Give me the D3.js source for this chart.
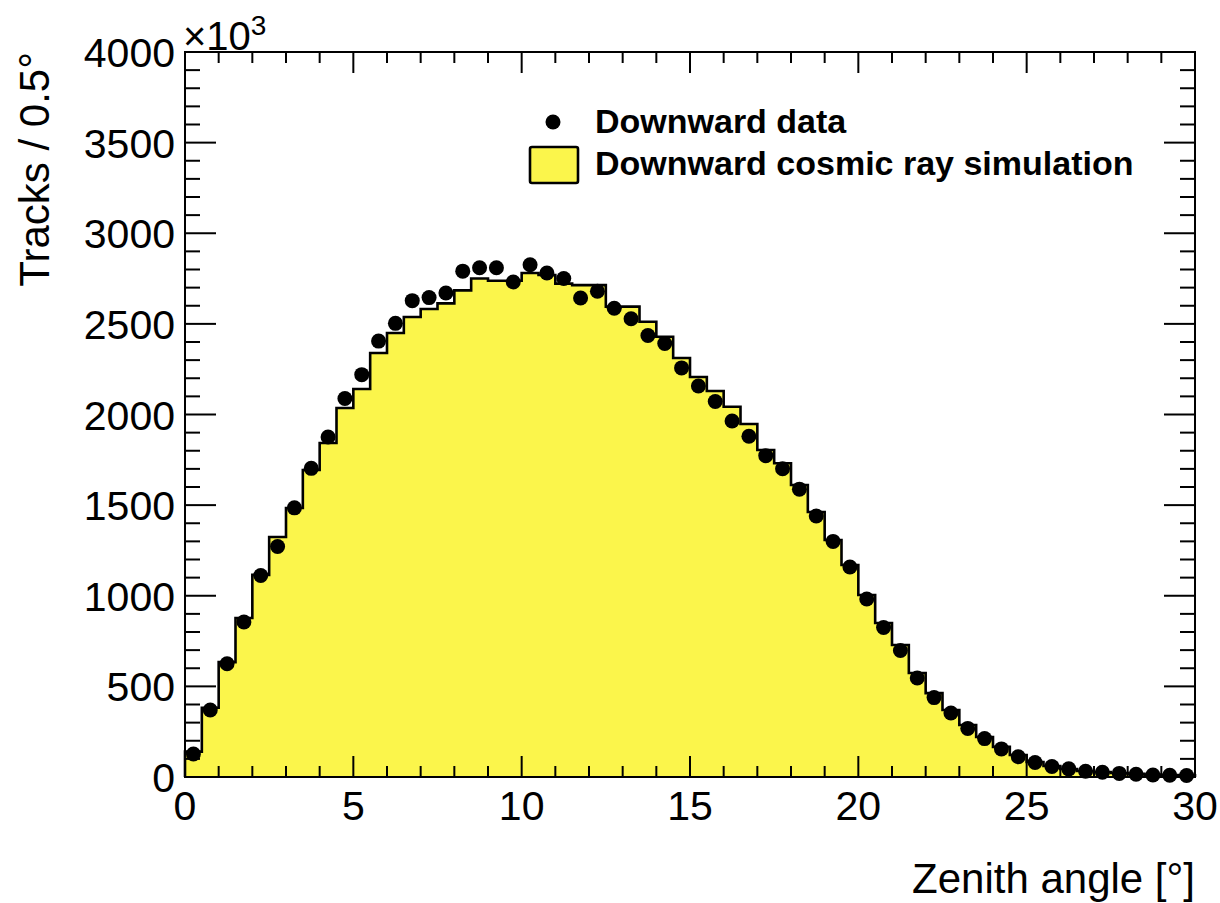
<!DOCTYPE html>
<html>
<head>
<meta charset="utf-8">
<script src="https://cdn.jsdelivr.net/npm/d3@7"></script>
<style>
html,body{margin:0;padding:0;background:#fff;}
svg{display:block;}
text{font-family:"Liberation Sans",Arial,Helvetica,sans-serif;fill:#000;}
</style>
</head>
<body>
<svg id="chart" width="1220" height="903"></svg>
<script>
// Bin lower edges (degrees), width 0.5
const binLow = [0,0.5,1,1.5,2,2.5,3,3.5,4,4.5,5,5.5,6,6.5,7,7.5,8,8.5,9,9.5,
  10,10.5,11,11.5,12,12.5,13,13.5,14,14.5,15,15.5,16,16.5,17,17.5,18,18.5,19,19.5,
  20,20.5,21,21.5,22,22.5,23,23.5,24,24.5,25,25.5,26,26.5,27,27.5,28,28.5,29,29.5];
const binWidth = 0.5;
// Downward data (x10^3 tracks)
const dataValues = [127,370,625,855,1112,1272,1485,1703,1876,2088,
  2220,2405,2503,2628,2645,2670,2791,2810,2810,2731,
  2826,2781,2750,2643,2680,2586,2528,2436,2392,2257,
  2157,2072,1964,1880,1773,1701,1588,1440,1300,1159,
  982,825,698,546,438,353,268,212,155,112,
  80,58,45,32,26,20,15,11,10,8];
// Downward cosmic ray simulation (x10^3 tracks)
const simValues = [140,382,634,877,1115,1324,1484,1694,1843,2036,
  2141,2339,2450,2538,2582,2613,2685,2750,2738,2738,
  2781,2770,2722,2714,2714,2595,2595,2512,2429,2312,
  2207,2130,2043,1948,1804,1731,1611,1462,1308,1170,
  1004,850,728,574,463,370,287,221,166,121,
  83,61,44,33,28,22,17,13,11,9];
const xTicks = [0,5,10,15,20,25,30];
const yTicks = [0,500,1000,1500,2000,2500,3000,3500,4000];
const legendLabels = ["Downward data","Downward cosmic ray simulation"];

const fillColor = "rgb(251,245,75)";
const svg = d3.select("#chart");
const L = 185, R = 1195, T = 52, B = 777;

const x = d3.scaleLinear().domain([0,30]).range([L,R]);
const y = d3.scaleLinear().domain([0,4000]).range([B,T]);

// Histogram (step) fill + outline
const pts = [[binLow[0], 0]];
binLow.forEach((b,i)=>{ pts.push([b, simValues[i]]); pts.push([b+binWidth, simValues[i]]); });
pts.push([binLow[binLow.length-1]+binWidth, 0]);
const line = d3.line().x(d=>x(d[0])).y(d=>y(d[1]));
svg.append("path").attr("d", line(pts)+"Z").attr("fill", fillColor).attr("stroke","none");
svg.append("path").attr("d", line(pts)).attr("fill","none").attr("stroke","#000")
  .attr("stroke-width",2.6).attr("stroke-linejoin","miter");

// Frame
const g = svg.append("g");
g.append("rect").attr("x",L).attr("y",T).attr("width",R-L).attr("height",B-T)
  .attr("fill","none").attr("stroke","#000").attr("stroke-width",2);

// X ticks (bottom & top)
const xMinor = d3.range(0,31,1);
xMinor.forEach(v=>{
  const major = v % 5 === 0;
  const len = major ? 21 : 11;
  if (v===0 || v===30) return;
  g.append("line").attr("x1",x(v)).attr("x2",x(v)).attr("y1",B).attr("y2",B-len)
    .attr("stroke","#000").attr("stroke-width",2);
  g.append("line").attr("x1",x(v)).attr("x2",x(v)).attr("y1",T).attr("y2",T+len)
    .attr("stroke","#000").attr("stroke-width",2);
});
// Y ticks (left & right)
const yMinor = d3.range(0,4001,100);
yMinor.forEach(v=>{
  const major = v % 500 === 0;
  const len = major ? 31 : 15;
  if (v===0 || v===4000) return;
  g.append("line").attr("x1",L).attr("x2",L+len).attr("y1",y(v)).attr("y2",y(v))
    .attr("stroke","#000").attr("stroke-width",2);
  g.append("line").attr("x1",R).attr("x2",R-len).attr("y1",y(v)).attr("y2",y(v))
    .attr("stroke","#000").attr("stroke-width",2);
});

// Tick labels
xTicks.forEach(v=>{
  svg.append("text").attr("x",x(v)).attr("y",820).attr("text-anchor","middle")
    .attr("font-size",41).text(v);
});
yTicks.forEach(v=>{
  svg.append("text").attr("x",175).attr("y",y(v)+15).attr("text-anchor","end")
    .attr("font-size",41).text(v);
});

// Exponent
const ex = svg.append("text").attr("x",183).attr("y",50).attr("font-size",40);
ex.append("tspan").text("×10");
ex.append("tspan").attr("font-size",28).attr("dy",-15).text("3");

// Axis titles
svg.append("text").attr("x",1195).attr("y",893).attr("text-anchor","end")
  .attr("font-size",42).text("Zenith angle [°]");
svg.append("text").attr("transform","translate(49,52) rotate(-90)")
  .attr("text-anchor","end").attr("font-size",42).text("Tracks / 0.5°");

// Data points
svg.append("g").selectAll("circle").data(dataValues).join("circle")
  .attr("cx",(d,i)=>x(binLow[i]+binWidth/2)).attr("cy",d=>y(d)).attr("r",7.5).attr("fill","#000");

// Legend
const lg = svg.append("g");
lg.append("circle").attr("cx",553).attr("cy",122).attr("r",7.5).attr("fill","#000");
lg.append("rect").attr("x",530).attr("y",147).attr("width",48).attr("height",36)
  .attr("fill",fillColor).attr("stroke","#000").attr("stroke-width",2.6).attr("rx",2);
lg.append("text").attr("x",595).attr("y",133).attr("font-size",34).attr("font-weight","bold").text(legendLabels[0]);
lg.append("text").attr("x",595).attr("y",175).attr("font-size",34).attr("font-weight","bold").text(legendLabels[1]);
</script>
</body>
</html>
